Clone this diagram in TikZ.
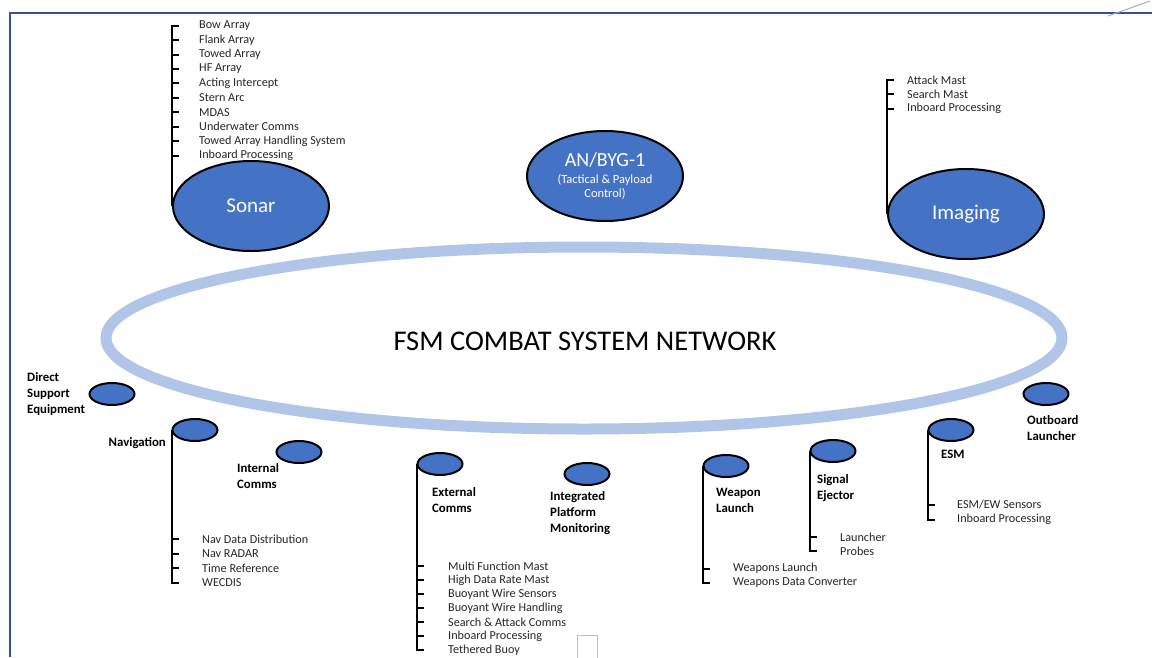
\documentclass[tikz,border=0pt]{standalone}
\usepackage{fontspec}
\setmainfont{Carlito}
\usetikzlibrary{shapes.geometric}
\definecolor{sysblue}{HTML}{4472C4}
\definecolor{ringblue}{HTML}{B0C5E8}
\definecolor{framecol}{HTML}{2F5496}
\tikzset{bigsys/.style={ellipse,draw=black,line width=2pt,fill=sysblue,text=white,
  inner sep=0pt,minimum width=156,minimum height=90,font=\fontsize{21}{25}\selectfont}}
\tikzset{subsys/.style={ellipse,draw=black,line width=2pt,fill=sysblue,
  inner sep=0pt,minimum width=45,minimum height=22}}
\tikzset{lbl/.style={anchor=west,align=left,inner sep=0pt,
  font=\bfseries\fontsize{12.8}{16}\selectfont}}
\tikzset{item/.style={anchor=west,inner sep=0pt,text=black!85,
  font=\fontsize{12.2}{14}\selectfont}}
\tikzset{tree/.style={line width=2pt}}

\begin{document}
\begin{tikzpicture}[x=1pt,y=-1pt]
      \useasboundingbox (0,0) rectangle (1152,657);
      % frame
      \draw [framecol,line width=2pt] (9.5,657) -- (9.5,13) -- (1152,13);
      \draw [ringblue!70!gray,line width=1pt] (1108,16) -- (1150,1);
      % network ring
      \draw [ringblue,line width=11pt] (584,338) ellipse [x radius=478,y radius=91];
      \node [font=\fontsize{28.5}{30}\selectfont] (net) at (585,341) {FSM COMBAT SYSTEM NETWORK};
      % main systems
      \node [bigsys] (sonar) at (251,206) {Sonar};
      \node [bigsys,align=center,font=\fontsize{12.5}{14}\selectfont] (byg) at (605,176)
        {{\fontsize{20}{22}\selectfont AN/BYG-1}\\[3pt](Tactical \& Payload\\Control)};
      \node [bigsys] (imaging) at (966,214) {Imaging};
      % sonar parts
      \foreach \t [count=\i] in {Bow Array,Flank Array,Towed Array,HF Array,Acting Intercept,
        Stern Arc,MDAS,Underwater Comms,Towed Array Handling System,Inboard Processing}
        \node [item] (son\i) at (199,{25.7+14.44*(\i-1)}) {\t};
      \draw [tree] (sonar.west) -- (sonar.west |- son1.west) -- ++(7,0);
      \foreach \i in {2,...,10} \draw [tree] (sonar.west |- son\i.west) -- ++(7,0);
      % imaging parts
      \foreach \t [count=\i] in {Attack Mast,Search Mast,Inboard Processing}
        \node [item] (img\i) at (907,{80+14.3*(\i-1)}) {\t};
      \draw [tree] (imaging.west) -- (imaging.west |- img1.west) -- ++(7,0);
      \foreach \i in {2,3} \draw [tree] (imaging.west |- img\i.west) -- ++(7,0);
      % subsystems
      \node [subsys] (dse) at (112,394) {};
      \node [lbl] (dselbl) at (27,394) {Direct\\Support\\Equipment};
      \node [subsys] (nav) at (195,430) {};
      \node [lbl,anchor=east] (navlbl) at (166,443) {Navigation};
      \node [subsys] (intc) at (299,452) {};
      \node [lbl] (intclbl) at (237,476) {Internal\\Comms};
      \node [subsys] (extc) at (440,464) {};
      \node [lbl] (extclbl) at (432,500) {External\\Comms};
      \node [subsys] (ipm) at (587,474) {};
      \node [lbl] (ipmlbl) at (550,513) {Integrated\\Platform\\Monitoring};
      \node [subsys] (wl) at (726,466) {};
      \node [lbl] (wllbl) at (716,500) {Weapon\\Launch};
      \node [subsys] (se) at (833,451) {};
      \node [lbl] (selbl) at (817,488) {Signal\\Ejector};
      \node [subsys] (esm) at (951,430) {};
      \node [lbl] (esmlbl) at (941,454) {ESM};
      \node [subsys] (obl) at (1046,394) {};
      \node [lbl] (obllbl) at (1027,428) {Outboard\\Launcher};
      % navigation parts
      \foreach \t [count=\i] in {Nav Data Distribution,Nav RADAR,Time Reference,WECDIS}
        \node [item] (nav\i) at (202,{539+14.6*(\i-1)}) {\t};
      \draw [tree] (nav.west) -- (nav.west |- nav4.west) -- ++(7,0);
      \foreach \i in {1,2,3} \draw [tree] (nav.west |- nav\i.west) -- ++(7,0);
      % external comms parts
      \foreach \t [count=\i] in {Multi Function Mast,High Data Rate Mast,Buoyant Wire Sensors,
        Buoyant Wire Handling,Search \& Attack Comms,Inboard Processing,Tethered Buoy}
        \node [item] (ext\i) at (448,{566+14*(\i-1)}) {\t};
      \draw [tree] (extc.west) -- (extc.west |- ext7.west) -- ++(7,0);
      \foreach \i in {1,...,6} \draw [tree] (extc.west |- ext\i.west) -- ++(7,0);
      \draw [black!25] (577,660) -- (577,635) -- (597,635) -- (597,660);
      % weapon launch parts
      \foreach \t [count=\i] in {Weapons Launch,Weapons Data Converter}
        \node [item] (wl\i) at (733,{568.5+14.5*(\i-1)}) {\t};
      \draw [tree] (wl.west) -- (wl.west |- wl2.west) -- ++(7,0);
      \draw [tree] (wl.west |- wl1.west) -- ++(7,0);
      % signal ejector parts
      \foreach \t [count=\i] in {Launcher,Probes}
        \node [item] (se\i) at (840,{537+14*(\i-1)}) {\t};
      \draw [tree] (se.west) -- (se.west |- se2.west) -- ++(7,0);
      \draw [tree] (se.west |- se1.west) -- ++(7,0);
      % esm parts
      \foreach \t [count=\i] in {ESM/EW Sensors,Inboard Processing}
        \node [item] (esm\i) at (957,{505+14.5*(\i-1)}) {\t};
      \draw [tree] (esm.west) -- (esm.west |- esm2.west) -- ++(7,0);
      \draw [tree] (esm.west |- esm1.west) -- ++(7,0);
    \end{tikzpicture}
\end{document}
